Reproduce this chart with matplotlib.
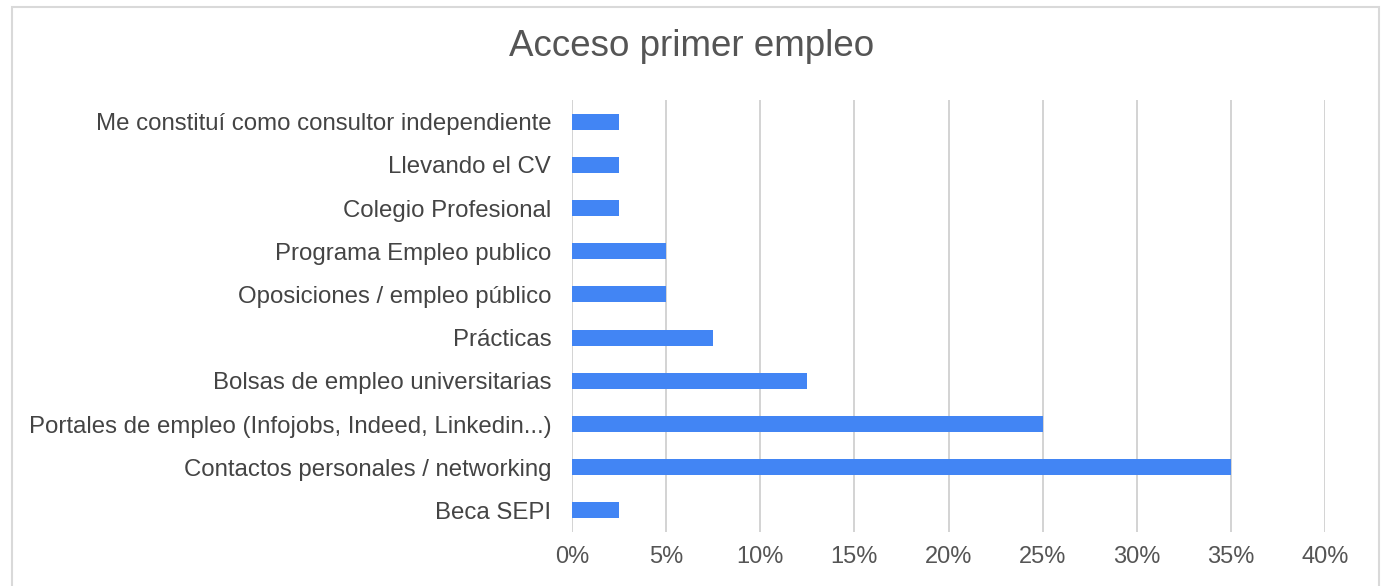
import matplotlib
matplotlib.use("Agg")
import matplotlib.pyplot as plt
from matplotlib.patches import Rectangle
from matplotlib.ticker import FuncFormatter

categories = [
    "Me constituí como consultor independiente",
    "Llevando el CV",
    "Colegio Profesional",
    "Programa Empleo publico",
    "Oposiciones / empleo público",
    "Prácticas",
    "Bolsas de empleo universitarias",
    "Portales de empleo (Infojobs, Indeed, Linkedin...)",
    "Contactos personales / networking",
    "Beca SEPI",
]
values = [2.5, 2.5, 2.5, 5.0, 5.0, 7.5, 12.5, 25.0, 35.0, 2.5]
xticks = [0, 5, 10, 15, 20, 25, 30, 35, 40]

plt.rcParams['font.family'] = ['Liberation Sans', 'DejaVu Sans']

fig = plt.figure(figsize=(13.84, 5.86), dpi=100)
ax = fig.add_axes([572/1384, 1-532/586, (1325-572)/1384, (532-100)/586])

ypos = list(range(len(categories)))
ax.barh(ypos, values, height=0.37, color="#4285F4", zorder=3)
ax.set_ylim(len(categories) - 0.5, -0.5)
ax.set_yticks(ypos)
ax.set_yticklabels(categories, fontsize=17.3, color="#444444")
ax.set_xlim(0, 40)
ax.set_xticks(xticks)
ax.xaxis.set_major_formatter(FuncFormatter(lambda v, p: f"{int(v)}%"))
ax.tick_params(axis='x', length=0, pad=10, labelsize=17, labelcolor="#555555")
ax.tick_params(axis='y', length=0, pad=15)
ax.grid(axis='x', color="#cccccc", linewidth=1.2, zorder=0)
for s in ax.spines.values():
    s.set_visible(False)

fig.text(0.5, 1-47/586, "Acceso primer empleo", ha='center', va='center',
         fontsize=26.5, color="#555555")

fig.patches.append(Rectangle((12/1384, -0.05), (1379-12)/1384, 1.05-7/586,
                             transform=fig.transFigure, fill=False,
                             edgecolor="#d9d9d9", linewidth=1.5))

fig.savefig("out.png", dpi=100)
